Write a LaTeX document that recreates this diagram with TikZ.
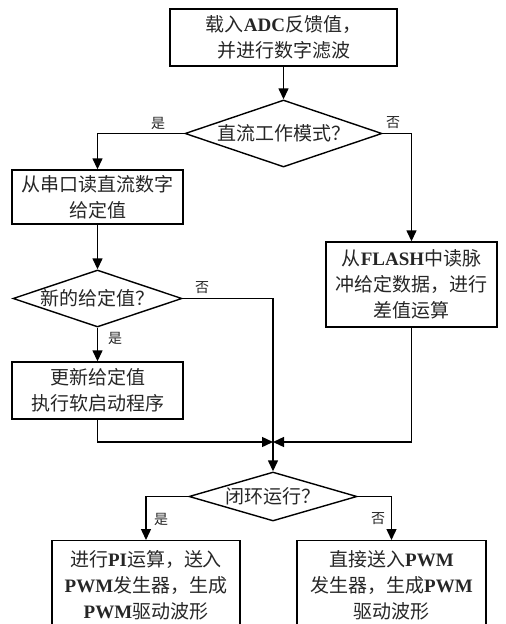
\documentclass[tikz,border=0pt]{standalone}
\usepackage{fontspec}
\setmainfont{Liberation Serif}
\newfontfamily\cjk{Noto Sans CJK SC}
\usetikzlibrary{shapes.geometric,arrows.meta}
\newcommand{\zh}[1]{{\cjk\mdseries #1}}
\begin{document}
\begin{tikzpicture}[x=1pt,y=-1pt,
  box/.style={draw,line width=1.4pt,inner sep=0pt,align=center,font=\bfseries\fontsize{19}{26}\selectfont,text=black!85},
  dec/.style={draw,diamond,line width=1.4pt,inner sep=0pt,align=center,font=\fontsize{19}{26}\selectfont,text=black!85},
  arr/.style={line width=1.4pt,-{Triangle[length=11pt,width=10pt]}},
  ln/.style={line width=1.4pt},
  lab/.style={font=\cjk\fontsize{14}{16}\selectfont,text=black!85}]
\useasboundingbox (0,0) rectangle (506,624);
\node[box,minimum width=227pt,minimum height=57pt] (b1) at (283.5,37.5) {\zh{载入}ADC\zh{反馈值，}\\\zh{并进行数字滤波}};
\node[dec,minimum width=197pt,minimum height=67pt,aspect=2.94] (d1) at (283.5,133.5) {\zh{直流工作模式？}};
\node[box,minimum width=171pt,minimum height=54pt] (b2) at (97.5,197) {\zh{从串口读直流数字}\\\zh{给定值}};
\node[box,minimum width=171pt,minimum height=85pt] (fl) at (411.5,284.5) {\zh{从}FLASH\zh{中读脉}\\\zh{冲给定数据，进行}\\\zh{差值运算}};
\node[dec,minimum width=169pt,minimum height=57pt,aspect=2.96] (d2) at (97.5,298.5) {\zh{新的给定值？}};
\node[box,minimum width=171pt,minimum height=57pt] (b3) at (97.5,390.5) {\zh{更新给定值}\\\zh{执行软启动程序}};
\coordinate (m) at (273,442);
\node[dec,minimum width=168pt,minimum height=49pt,aspect=3.43] (d3) at (273,496.5) {\zh{闭环运行？}};
\node[box,minimum width=188pt,minimum height=90pt,anchor=north] (b4) at (146,540) {\zh{进行}PI\zh{运算，送入}\\PWM\zh{发生器，生成}\\PWM\zh{驱动波形}};
\node[box,minimum width=189pt,minimum height=90pt,anchor=north] (b5) at (391.5,540) {\zh{直接送入}PWM\\\zh{发生器，生成}PWM\\\zh{驱动波形}};
\draw[arr] (b1) -- (d1);
\draw[arr] (d1.west) -| (b2.north);
\draw[arr] (d1.east) -| (fl.north);
\draw[arr] (b2) -- (d2);
\draw[arr] (d2.south) -- (b3.north);
\draw[ln] (d2.east) -| (m);
\draw[arr] (b3.south) |- (m);
\draw[arr] (fl.south) |- (m);
\draw[arr] (m) -- (d3.north);
\draw[arr] (d3.west) -| (b4.north);
\draw[arr] (d3.east) -| (b5.north);
\node[lab] (l1) at (158,123) {是};
\node[lab] (l2) at (393,123) {否};
\node[lab] (l3) at (202,288) {否};
\node[lab] (l4) at (115,338) {是};
\node[lab] (l5) at (161,519) {是};
\node[lab] (l6) at (378,519) {否};
\end{tikzpicture}
\end{document}
